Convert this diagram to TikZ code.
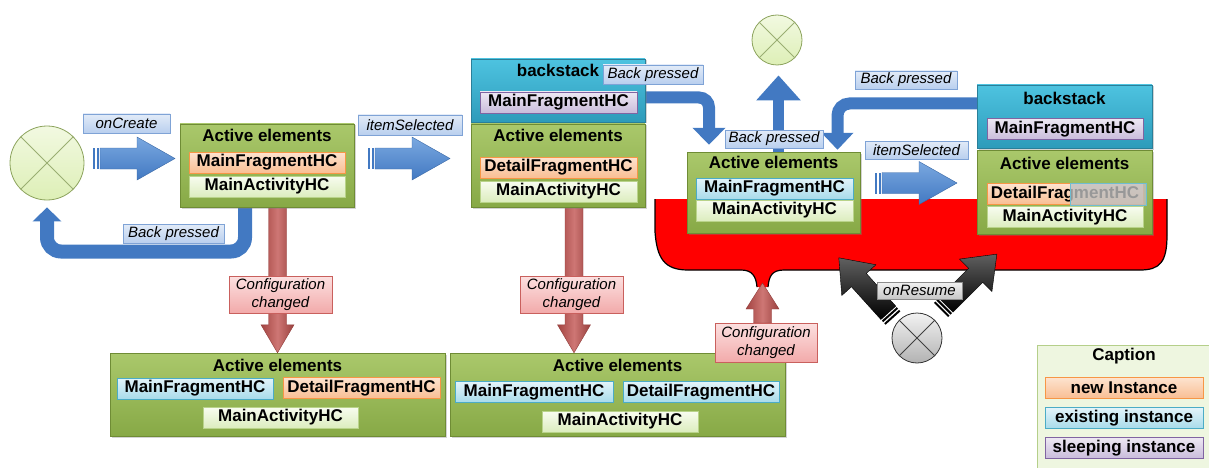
\documentclass[tikz,border=0pt]{standalone}
\usepackage{fontspec}
\setmainfont{Liberation Sans}
\usetikzlibrary{arrows.meta,shadows,calc}

\definecolor{grnT}{HTML}{AAC86B}
\definecolor{grnB}{HTML}{87A946}
\definecolor{grnD}{HTML}{6F8C35}
\definecolor{tealT}{HTML}{4DC3E0}
\definecolor{tealB}{HTML}{2E9BBA}
\definecolor{tealD}{HTML}{2A7F99}
\definecolor{orT}{HTML}{FDE3CF}
\definecolor{orB}{HTML}{F9BE93}
\definecolor{orD}{HTML}{F79646}
\definecolor{lgT}{HTML}{F8FCF0}
\definecolor{lgB}{HTML}{DCEDBE}
\definecolor{lgD}{HTML}{B9D38A}
\definecolor{bluT}{HTML}{E3F4FA}
\definecolor{bluB}{HTML}{A8DBEA}
\definecolor{bluD}{HTML}{4BACC6}
\definecolor{purT}{HTML}{EDE8F3}
\definecolor{purB}{HTML}{C9BCDB}
\definecolor{purD}{HTML}{8064A2}
\definecolor{labT}{HTML}{E2EBF8}
\definecolor{labB}{HTML}{B9CFEE}
\definecolor{labD}{HTML}{7FA3D6}
\definecolor{pnkT}{HTML}{FCE0E0}
\definecolor{pnkB}{HTML}{F2AAAA}
\definecolor{pnkD}{HTML}{C9605D}
\definecolor{gryT}{HTML}{F2F2F2}
\definecolor{gryB}{HTML}{C6C6C6}
\definecolor{gryD}{HTML}{8C8C8C}
\definecolor{arrB}{HTML}{4279C2}
\definecolor{arrT}{HTML}{7AA8E0}
\definecolor{arrR}{HTML}{C0504D}
\definecolor{capF}{HTML}{EEF6E0}
\definecolor{capD}{HTML}{B5CF8A}
\definecolor{cirT}{HTML}{F2F9E1}
\definecolor{cirB}{HTML}{DDEFB6}

\newcommand\boldtext{\bfseries\fontsize{17}{19}\selectfont}
\newcommand\labtext{\itshape\fontsize{15}{18}\selectfont}

\tikzset{
  actbox/.style={draw=grnD, line width=0.8pt, top color=grnT, bottom color=grnB,
    inner sep=0pt, drop shadow={shadow xshift=1.5pt,shadow yshift=-1.5pt,opacity=0.35}},
  bsbox/.style={actbox, draw=tealD, top color=tealT, bottom color=tealB},
  ttl/.style={font=\boldtext, inner sep=0pt},
  item/.style={inner sep=0pt, minimum width=156pt, minimum height=21pt, font=\boldtext, line width=0.7pt},
  newi/.style={item, draw=orD, top color=orT, bottom color=orB},
  actv/.style={item, draw=lgD, top color=lgT, bottom color=lgB},
  exii/.style={item, draw=bluD, top color=bluT, bottom color=bluB},
  slpi/.style={item, draw=purD, top color=purT, bottom color=purB},
  lab/.style={font=\labtext, inner sep=0pt, line width=0.6pt, draw=labD, top color=labT, bottom color=labB},
  cfg/.style={font=\labtext, align=center, inner sep=0pt, line width=0.6pt, draw=pnkD,
    top color=pnkT, bottom color=pnkB, minimum width=103pt, minimum height=37pt},
  redshade/.style={left color=arrR!85!black, right color=arrR!80!black, middle color=arrR!78!white,
    draw=arrR!75!black, line width=0.4pt},
  bluebent/.style={draw=arrB, rounded corners=12pt},
  startpt/.style={circle, inner sep=0pt, line width=0.8pt, draw=grnD!80, top color=cirT, bottom color=cirB},
}

% block arrow with two thin bars at its tail: tail x, tip x, centre y
\newcommand\stripedarrow[3]{%
  \shade[top color=arrT, bottom color=arrB, draw=arrB!85!black, line width=0.4pt]
    (#1+7,#3-10.5) -- (#2-38,#3-10.5) -- (#2-38,#3-21.5) -- (#2,#3)
    -- (#2-38,#3+21.5) -- (#2-38,#3+10.5) -- (#1+7,#3+10.5) -- cycle;
  \fill[arrB] (#1,#3-10.5) rectangle (#1+2,#3+10.5);
  \fill[arrB] (#1+3.5,#3-10.5) rectangle (#1+5.5,#3+10.5);
}
% black striped block arrow: tail point, angle, length
\newcommand\blackarrow[3]{%
  \begin{scope}[shift={#1}, rotate=#2]
    \shade[top color=gray!75!black, bottom color=black, draw=black, line width=0.4pt]
      (7,-10) -- (#3-30,-10) -- (#3-30,-23) -- (#3,0) -- (#3-30,23)
      -- (#3-30,10) -- (7,10) -- cycle;
    \fill[black] (0,-10) rectangle (2,10);
    \fill[black] (3.5,-10) rectangle (5.5,10);
  \end{scope}}
% vertical red block arrow from one point to another; #3 = head base offset from the tip
\newcommand\redblock[3]{%
  \shade[redshade] let \p1=#1, \p2=#2 in
    ({\x1-9pt},\y1) -- ({\x1-9pt},{\y2+(#3)}) -- ({\x1-16.5pt},{\y2+(#3)}) -- (\x1,\y2)
    -- ({\x1+16.5pt},{\y2+(#3)}) -- ({\x1+9pt},{\y2+(#3)}) -- ({\x1+9pt},\y1) -- cycle;}

\begin{document}
\begin{tikzpicture}[x=1pt,y=-1pt]
\useasboundingbox (0,0) rectangle (1209,468);
\clip (0,0) rectangle (1209,468);

% red callout behind the resumed states
\fill[red] (655,199) -- (1167,199) -- (1167,235) .. controls (1167,262) and (1160,270) .. (1140,270)
  -- (784,270) .. controls (772,270) and (769,276) .. (768,287) -- (757,287)
  .. controls (756,276) and (752,270) .. (741,270) -- (688,270)
  .. controls (664,270) and (657,258) .. (655,232) -- cycle;
\draw[black, line width=1.2pt] (1167,199) -- (1167,235) .. controls (1167,262) and (1160,270) .. (1140,270)
  -- (784,270) .. controls (772,270) and (769,276) .. (768,287)
  (757,287) .. controls (756,276) and (752,270) .. (741,270) -- (688,270)
  .. controls (664,270) and (657,258) .. (655,232) -- (655,199);

% start / end points
\node[startpt, minimum size=74pt] (c1) at (47,163) {};
\draw[grnD!70, line width=0.8pt] (c1.north west) -- (c1.south east) (c1.north east) -- (c1.south west);
\node[startpt, minimum size=50pt] (c2) at (777,40) {};
\draw[grnD!70, line width=0.8pt] (c2.north west) -- (c2.south east) (c2.north east) -- (c2.south west);
\node[circle, inner sep=0pt, minimum size=50pt, line width=0.8pt, draw=black!80,
  top color=gryT, bottom color=gryB!90!black] (c3) at (917,338) {};
\draw[black!75, line width=0.8pt] (c3.north west) -- (c3.south east) (c3.north east) -- (c3.south west);

% box outlines are placed first so the connectors can refer to them
\path (267,165.5) coordinate (pa1) (558,90.5) coordinate (pa2b) (558,165.5) coordinate (pa2)
  (773.5,192.5) coordinate (pa3) (1064.5,116.5) coordinate (pa4b) (1064.5,192) coordinate (pa4)
  (277.5,394.5) coordinate (pb1) (617.5,394.5) coordinate (pb2);
\path (pa1) node[minimum width=174pt, minimum height=83pt, inner sep=0pt] (a1) {}
  (pa2b) node[minimum width=174pt, minimum height=63pt, inner sep=0pt] (a2b) {}
  (pa2) node[minimum width=174pt, minimum height=83pt, inner sep=0pt] (a2) {}
  (pa3) node[minimum width=173pt, minimum height=81pt, inner sep=0pt] (a3) {}
  (pa4b) node[minimum width=175pt, minimum height=63pt, inner sep=0pt] (a4b) {}
  (pa4) node[minimum width=175pt, minimum height=84pt, inner sep=0pt] (a4) {}
  (pb1) node[minimum width=335pt, minimum height=83pt, inner sep=0pt] (b1) {}
  (pb2) node[minimum width=335pt, minimum height=83pt, inner sep=0pt] (b2) {};
\path (766,323) coordinate (cfg3top) (762.5,283) coordinate (neck);

% connectors
\coordinate (r1) at (277.5,0);
\coordinate (r2) at (574,0);
\redblock{(r1 |- a1.south)}{(r1 |- b1.north)}{28pt}
\redblock{(r2 |- a2.south)}{(r2 |- b2.north)}{28pt}
\redblock{(neck |- cfg3top)}{(neck)}{-26pt}

\coordinate (k1) at (245,251.5);
\draw[bluebent, line width=14pt, rounded corners=14pt, -{Triangle[width=28pt,length=14pt]}, shorten >=7pt]
  (k1 |- a1.south) -- (k1) -- (k1 -| c1) -- (c1.south);
\coordinate (k2) at (709,97.5);
\draw[bluebent, line width=12pt, rounded corners=10pt, -{Triangle[width=32pt,length=17pt]}, shorten >=7pt]
  (a2b.east |- k2) -- (k2) -- (k2 |- a3.north);
\coordinate (k3) at (778.5,0);
\draw[bluebent, line width=11pt, -{Triangle[width=43pt,length=25pt]}, shorten >=10pt]
  (k3 |- a3.north) -- (k3 |- c2.south);
\coordinate (k4) at (837.5,103.5);
\draw[bluebent, line width=12pt, rounded corners=12pt, -{Triangle[width=31pt,length=17pt]}, shorten >=2pt]
  (a4b.west |- k4) -- (k4) -- (k4 |- a3.north);

\stripedarrow{93}{175}{158.5}
\stripedarrow{368}{450}{158.5}
\stripedarrow{875}{957}{183}
\blackarrow{(893,318)}{132}{81}
\blackarrow{(941,310)}{45}{79}

% state boxes
\node[actbox, minimum width=174pt, minimum height=83pt] at (a1) {};
\node[ttl] (a1t) at (267,135) {Active elements};
\node[newi] (a1f) at (267,162.5) {MainFragmentHC};
\node[actv] (a1m) at (267,186.5) {MainActivityHC};

\node[bsbox, minimum width=174pt, minimum height=63pt] at (a2b) {};
\node[ttl] (a2bt) at (558,70) {backstack};
\node[slpi, minimum width=157pt] (a2bf) at (558.5,102.5) {MainFragmentHC};
\node[actbox, minimum width=174pt, minimum height=83pt] at (a2) {};
\node[ttl] (a2t) at (558,135) {Active elements};
\node[newi, minimum width=157pt] (a2d) at (558.5,167.5) {DetailFragmentHC};
\node[actv, minimum width=157pt] (a2m) at (558.5,191.5) {MainActivityHC};

\node[actbox, minimum width=173pt, minimum height=81pt] at (a3) {};
\node[ttl] (a3t) at (773.5,162) {Active elements};
\node[exii, minimum width=157pt] (a3f) at (774.5,188.5) {MainFragmentHC};
\node[actv, minimum width=157pt] (a3m) at (774.5,210.5) {MainActivityHC};

\node[bsbox, minimum width=175pt, minimum height=63pt] at (a4b) {};
\node[ttl] (a4bt) at (1064.5,98) {backstack};
\node[slpi] (a4bf) at (1065,129) {MainFragmentHC};
\node[actbox, minimum width=175pt, minimum height=84pt] at (a4) {};
\node[ttl] (a4t) at (1064.5,163) {Active elements};
\node[newi] (a4d) at (1065,194) {DetailFragmentHC};
\node[inner sep=0pt, minimum width=76pt, minimum height=22pt, fill=gray!50, fill opacity=0.8,
  draw=bluD!80, line width=0.7pt] (a4g) at (1108,194) {};
\node[actv] (a4m) at (1065,217) {MainActivityHC};

\node[actbox, minimum width=335pt, minimum height=83pt] at (b1) {};
\node[ttl] (b1t) at (277.5,365) {Active elements};
\node[exii] (b1f) at (195,388.5) {MainFragmentHC};
\node[newi, minimum width=157pt] (b1d) at (361.5,388) {DetailFragmentHC};
\node[actv, minimum width=155pt] (b1m) at (280.5,417.5) {MainActivityHC};

\node[actbox, minimum width=335pt, minimum height=83pt] at (b2) {};
\node[ttl] (b2t) at (617.5,365) {Active elements};
\node[exii, minimum width=158pt] (b2f) at (534,392) {MainFragmentHC};
\node[exii] (b2d) at (701,392) {DetailFragmentHC};
\node[actv] (b2m) at (620,421.5) {MainActivityHC};

% transition labels
\node[lab, minimum width=87pt, minimum height=19pt] (lcreate) at (126.5,123.5) {onCreate};
\node[lab, minimum width=101pt, minimum height=19pt] (lback1) at (173.5,233.5) {Back pressed};
\node[lab, minimum width=104pt, minimum height=20pt] (lsel1) at (410,125) {itemSelected};
\node[lab, minimum width=100pt, minimum height=19pt] (lback2) at (653,74.5) {Back pressed};
\node[lab, minimum width=98pt, minimum height=18pt] (lback3) at (774,139) {Back pressed};
\node[lab, minimum width=102pt, minimum height=18pt] (lback4) at (906,80) {Back pressed};
\node[lab, minimum width=103pt, minimum height=18pt] (lsel2) at (916.5,150) {itemSelected};
\node[cfg] (cfg1) at (280.5,294.5) {Configuration\\changed};
\node[cfg] (cfg2) at (571.5,294.5) {Configuration\\changed};
\node[cfg, minimum width=102pt, minimum height=39pt] (cfg3) at (766,342.5) {Configuration\\changed};
\node[font=\labtext, inner sep=0pt, line width=0.6pt, draw=gryD, top color=gryT, bottom color=gryB,
  minimum width=85pt, minimum height=17pt] (lres) at (919.5,290.5) {onResume};

% caption
\node[inner sep=0pt, fill=capF, draw=capD, line width=0.8pt, minimum width=193pt, minimum height=145pt]
  (cap) at (1133.5,417.5) {};
\node[ttl] (capt) at (1124,356) {Caption};
\node[newi, minimum width=158pt] (capn) at (1124,388) {new Instance};
\node[exii, minimum width=158pt] (cape) at (1124,418) {existing instance};
\node[slpi, minimum width=158pt] (caps) at (1124,448) {sleeping instance};
\end{tikzpicture}
\end{document}
